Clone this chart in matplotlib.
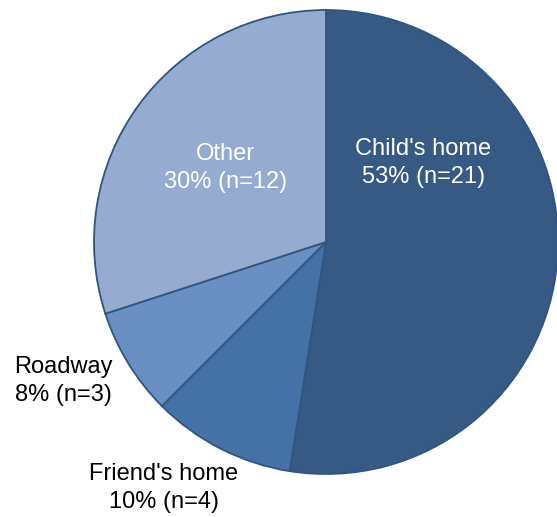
import matplotlib.pyplot as plt

plt.rcParams['font.family'] = ['Liberation Sans', 'DejaVu Sans']

places = ["Child's home", "Friend's home", "Roadway", "Other"]
counts = [21, 4, 3, 12]
pcts = ["53%", "10%", "8%", "30%"]
colors = ["#375A85", "#4472A7", "#6A8FC3", "#95ABD0"]

fig = plt.figure(figsize=(5.57, 5.17), dpi=100)
ax = fig.add_axes([94/557, 43/517, 464/557, 464/517])

ax.pie(counts, colors=colors, startangle=90, counterclock=False,
       wedgeprops=dict(edgecolor="#2F5580", linewidth=1.3))
ax.set_xlim(-1, 1)
ax.set_ylim(-1, 1)
ax.set_aspect("auto")
ax.axis("off")

# label positions (axes data units) and colours
pos = [(0.42, 0.34), (-0.70, -1.06), (-1.13, -0.60), (-0.435, 0.32)]
tcol = ["white", "black", "black", "white"]
for i in range(len(places)):
    ax.text(pos[i][0], pos[i][1], "%s\n%s (n=%d)" % (places[i], pcts[i], counts[i]),
            ha="center", va="center", color=tcol[i], fontsize=17,
            linespacing=1.35, clip_on=False)

fig.savefig("out.png", dpi=100)
